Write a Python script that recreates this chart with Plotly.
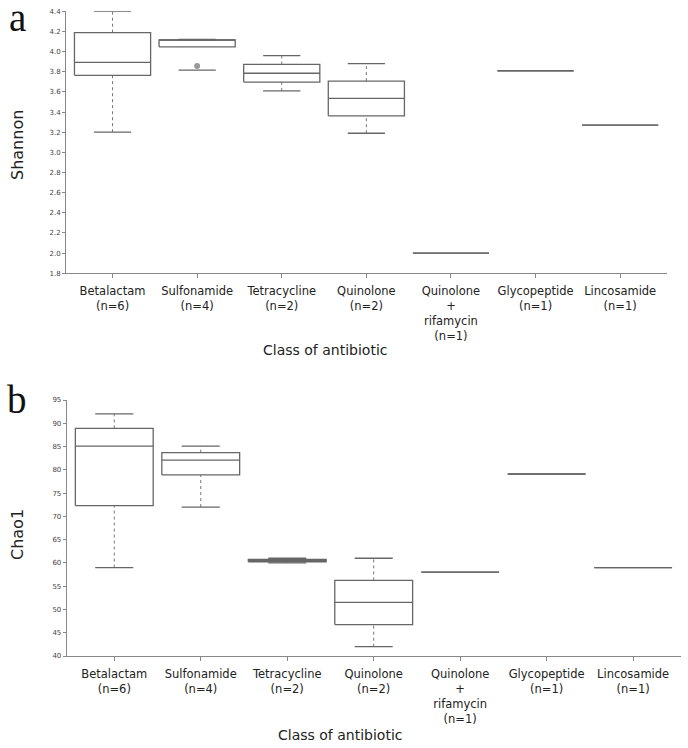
import plotly.graph_objects as go

categories = ["Betalactam<br>(n=6)", "Sulfonamide<br>(n=4)", "Tetracycline<br>(n=2)",
              "Quinolone<br>(n=2)", "Quinolone<br>+<br>rifamycin<br>(n=1)",
              "Glycopeptide<br>(n=1)", "Lincosamide<br>(n=1)"]

# Panel a: Shannon
sh_low = [3.20, 3.817, 3.61, 3.19, 2.00, 3.81, 3.27]
sh_q1 = [3.765, 4.046, 3.6975, 3.3625, 2.00, 3.81, 3.27]
sh_med = [3.894, 4.115, 3.785, 3.535, 2.00, 3.81, 3.27]
sh_q3 = [4.188, 4.115, 3.8725, 3.7075, 2.00, 3.81, 3.27]
sh_high = [4.40, 4.12, 3.96, 3.88, 2.00, 3.81, 3.27]
sh_out_x = [1]
sh_out_y = [3.857]
sh_no_low_stem = [1]   # box index whose lower stem is not drawn in the original

# Panel b: Chao1
ch_low = [59.0, 72.0, 60.0, 42.0, 58.0, 79.1, 59.0]
ch_q1 = [72.3, 78.9, 60.25, 46.75, 58.0, 79.1, 59.0]
ch_med = [85.1, 82.1, 60.5, 51.5, 58.0, 79.1, 59.0]
ch_q3 = [88.9, 83.7, 60.75, 56.25, 58.0, 79.1, 59.0]
ch_high = [92.0, 85.1, 61.0, 61.0, 58.0, 79.1, 59.0]

HW = 0.45   # half box width (category units)
CW = 0.22   # half cap width
LINE = "#666666"


def box_traces(low, q1, med, q3, high, xa, ya, no_low_stem=()):
    bx, by, mx, my, cx, cy, sx, sy = [], [], [], [], [], [], [], []
    for i in range(len(low)):
        bx += [i - HW, i + HW, i + HW, i - HW, i - HW, None]
        by += [q1[i], q1[i], q3[i], q3[i], q1[i], None]
        mx += [i - HW, i + HW, None]
        my += [med[i], med[i], None]
        if high[i] > low[i]:
            cx += [i - CW, i + CW, None, i - CW, i + CW, None]
            cy += [low[i], low[i], None, high[i], high[i], None]
            if high[i] > q3[i]:
                sx += [i, i, None]
                sy += [q3[i], high[i], None]
            if q1[i] > low[i] and i not in no_low_stem:
                sx += [i, i, None]
                sy += [low[i], q1[i], None]
    common = dict(mode="lines", xaxis=xa, yaxis=ya, showlegend=False, hoverinfo="skip")
    return [
        go.Scatter(x=sx, y=sy, line=dict(color="#777777", width=1, dash="dot"), **common),
        go.Scatter(x=bx, y=by, line=dict(color=LINE, width=1.3), **common),
        go.Scatter(x=mx, y=my, line=dict(color=LINE, width=1.3), **common),
        go.Scatter(x=cx, y=cy, line=dict(color=LINE, width=1.3), **common),
    ]


fig = go.Figure()
for t in box_traces(sh_low, sh_q1, sh_med, sh_q3, sh_high, "x", "y", sh_no_low_stem):
    fig.add_trace(t)
fig.add_trace(go.Scatter(x=sh_out_x, y=sh_out_y, mode="markers", xaxis="x", yaxis="y",
                         marker=dict(color="#999999", size=6), showlegend=False, hoverinfo="skip"))
for t in box_traces(ch_low, ch_q1, ch_med, ch_q3, ch_high, "x2", "y2"):
    fig.add_trace(t)

W, H = 688, 748


def px(v):
    return v / W


def py(v):
    return 1 - v / H


xcommon = dict(
    tickmode="array", tickvals=list(range(len(categories))), ticktext=categories,
    range=[-0.55, 6.55], showline=True, linecolor="#888888", linewidth=1,
    ticks="outside", ticklen=4, tickcolor="#888888", showgrid=False, zeroline=False,
    tickfont=dict(family="DejaVu Sans", size=11.5, color="#222222"), automargin=False,
    ticklabelstandoff=3,
)
ycommon = dict(
    showline=True, linecolor="#888888", linewidth=1, ticks="outside", ticklen=3,
    tickcolor="#888888", showgrid=False, zeroline=False,
    tickfont=dict(family="DejaVu Sans", size=7, color="#444444"), automargin=False,
)

fig.update_layout(
    width=W, height=H,
    margin=dict(l=0, r=0, t=0, b=0),
    paper_bgcolor="white", plot_bgcolor="white",
    xaxis=dict(domain=[px(66), px(666.7)], anchor="y", **xcommon),
    yaxis=dict(domain=[py(273.3), py(11.3)], anchor="x", range=[1.8, 4.4],
               tickvals=[1.8 + 0.2 * k for k in range(14)], tickformat=".1f", **ycommon),
    xaxis2=dict(domain=[px(66.7), px(680.7)], anchor="y2", **xcommon),
    yaxis2=dict(domain=[py(656), py(400)], anchor="x2", range=[40, 95],
                tickvals=list(range(40, 96, 5)), **ycommon),
)

annots = [
    dict(text="a", x=px(17), y=py(18), font=dict(family="Liberation Serif", size=39, color="#111111")),
    dict(text="b", x=px(17), y=py(399), font=dict(family="Liberation Serif", size=39, color="#111111")),
    dict(text="Shannon", x=px(17), y=py(145), textangle=-90,
         font=dict(family="DejaVu Sans", size=16, color="#222222")),
    dict(text="Chao1", x=px(17), y=py(535), textangle=-90,
         font=dict(family="DejaVu Sans", size=16, color="#222222")),
    dict(text="Class of antibiotic", x=px(325), y=py(350),
         font=dict(family="DejaVu Sans", size=14, color="#222222")),
    dict(text="Class of antibiotic", x=px(340), y=py(735),
         font=dict(family="DejaVu Sans", size=14, color="#222222")),
]
for a in annots:
    fig.add_annotation(xref="paper", yref="paper", xanchor="center", yanchor="middle",
                       showarrow=False, **a)

fig.write_html("out.html", config={"displayModeBar": False},
               post_script="document.body.style.margin='0';document.body.style.padding='0';")
